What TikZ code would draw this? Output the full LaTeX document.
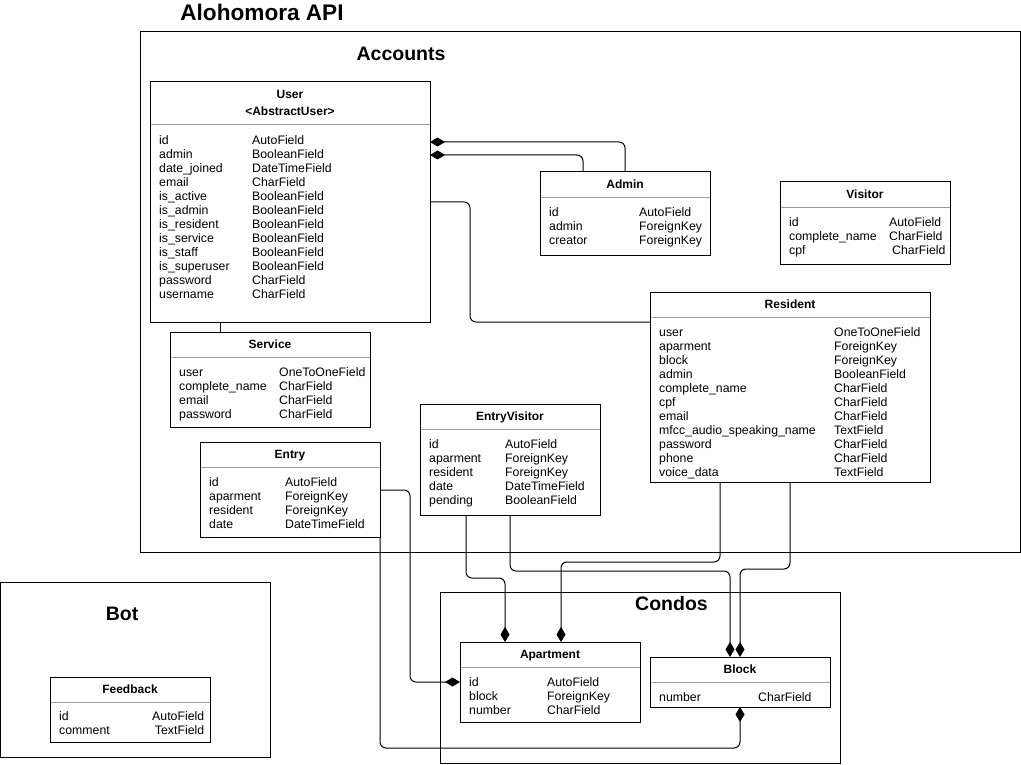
\documentclass[tikz,border=0pt]{standalone}
\usepackage{fontspec}
\setmainfont{Liberation Sans}
\usetikzlibrary{arrows.meta,calc}
\definecolor{sepgray}{RGB}{155,155,155}
\tikzset{
 box/.style={draw, line width=1pt, fill=white, inner sep=0pt, outer sep=0pt, anchor=north west},
 frm/.style={draw, line width=1pt, inner sep=0pt, outer sep=0pt, anchor=north west},
 ttl/.style={font=\bfseries\fontsize{12}{14}\selectfont, anchor=base, inner sep=0pt},
 fld/.style={font=\fontsize{12.3}{14}\selectfont, anchor=base west, inner sep=0pt},
 sepline/.style={draw=sepgray, line width=1pt},
 conn/.style={line width=1pt, rounded corners=6pt},
 comp/.style={conn, -{Diamond[length=15pt,width=9pt]}},
 big/.style={font=\bfseries\fontsize{19.5}{23}\selectfont, anchor=base, inner sep=0pt},
}
% #1 name, #2 x, #3 y, #4 w, #5 h, #6 title, #7 column width, #8 rows
\newcommand\umlclass[8]{%
 \node[box, minimum width=#4pt, minimum height=#5pt] (#1) at (#2,#3) {};
 \node[ttl] (#1-t) at ($(#1.north)+(0,16.3)$) {#6};
 \draw[sepline] ($(#1.north west)+(0.5,25.5)$) -- ($(#1.north east)+(-0.5,25.5)$);
 \node[fld] (#1-f) at ($(#1.north west)+(9,44.3)$) {\begin{tabular}[t]{@{}p{#7pt}@{}l@{}}#8\end{tabular}};
}
\begin{document}
\begin{tikzpicture}[x=1pt, y=-1pt]
\useasboundingbox (0,0) rectangle (1021,765);
% frames
\node[frm, minimum width=880pt, minimum height=520pt] (accounts) at (140,32) {};
\node[frm, minimum width=400pt, minimum height=171pt] (condos) at (440,592) {};
\node[frm, minimum width=269.5pt, minimum height=175pt] (bot) at (0.5,582) {};
\node[big, font=\bfseries\fontsize{22.6}{26}\selectfont] (api-t) at (262,21) {Alohomora API};
\node[big] (accounts-t) at (401,61) {Accounts};
\node[big] (condos-t) at (671.5,610) {Condos};
\node[big] (bot-t) at (122,620) {Bot};

% User
\node[box, minimum width=280pt, minimum height=240pt] (user) at (150,82) {};
\node[ttl] (user-t) at ($(user.north)+(0,16.8)$) {User};
\node[ttl] (user-s) at ($(user.north)+(0,33.8)$) {<AbstractUser>};
\draw[sepline] ($(user.north west)+(0.5,43)$) -- ($(user.north east)+(-0.5,43)$);
\node[fld] (user-f) at ($(user.north west)+(9,62.8)$) {\begin{tabular}[t]{@{}p{93pt}@{}l@{}}
id & AutoField\\ admin & BooleanField\\ date\_joined & DateTimeField\\ email & CharField\\
is\_active & BooleanField\\ is\_admin & BooleanField\\ is\_resident & BooleanField\\
is\_service & BooleanField\\ is\_staff & BooleanField\\ is\_superuser & BooleanField\\
password & CharField\\ username & CharField\end{tabular}};

\umlclass{admin}{540}{172}{170}{83}{Admin}{90}{id & AutoField\\ admin & ForeignKey\\ creator & ForeignKey}
\umlclass{visitor}{780}{182}{170}{82}{Visitor}{100}{id & AutoField\\ complete\_name & CharField\\ cpf & \hspace{3pt}CharField}
\umlclass{resident}{650}{292}{280}{190}{Resident}{175}{user & OneToOneField\\ aparment & ForeignKey\\ block & ForeignKey\\ admin & BooleanField\\ complete\_name & CharField\\ cpf & CharField\\ email & CharField\\ mfcc\_audio\_speaking\_name & TextField\\ password & CharField\\ phone & CharField\\ voice\_data & TextField}
\umlclass{service}{170}{332}{200}{95}{Service}{100}{user & OneToOneField\\ complete\_name & CharField\\ email & CharField\\ password & CharField}
\umlclass{entry}{200}{442}{180}{95}{Entry}{76}{id & AutoField\\ aparment & ForeignKey\\ resident & ForeignKey\\ date & DateTimeField}
\umlclass{ev}{420}{404}{180}{111}{EntryVisitor}{76}{id & AutoField\\ aparment & ForeignKey\\ resident & ForeignKey\\ date & DateTimeField\\ pending & BooleanField}
\umlclass{apartment}{460}{642}{180}{80}{Apartment}{78}{id & AutoField\\ block & ForeignKey\\ number & CharField}
\umlclass{block}{650}{657}{180}{50}{Block}{99}{number & CharField}

% Feedback
\node[box, minimum width=160pt, minimum height=65pt] (feedback) at (50,677) {};
\node[ttl] (feedback-t) at ($(feedback.north)+(0,16)$) {Feedback};
\draw[sepline] ($(feedback.north west)+(0.5,25.5)$) -- ($(feedback.north east)+(-0.5,25.5)$);
\node[fld] (feedback-f) at ($(feedback.north west)+(9,43.5)$) {\begin{tabular*}{145pt}[t]{@{}l@{\extracolsep{\fill}}r@{}}id & AutoField\\ comment & TextField\end{tabular*}};

% connectors
\draw[comp] ($(admin.north west)+(85,0)$) |- ($(user.north east)+(0,60)$);
\draw[comp] ($(admin.north west)+(43,0)$) |- ($(user.north east)+(0,73)$);
\draw[conn] ($(user.north east)+(0,120)$) -- ++(40,0) -- ++(0,120) -- ($(resident.north west)+(0,30)$);
\draw[conn] ($(user.south west)+(70,0)$) -- ($(service.north west)+(50,0)$);
\draw[comp] ($(entry.north east)+(0,48)$) -- ++(30,0) |- ($(apartment.north west)+(0,40)$);
\draw[comp] (entry.south east) -- ++(0,211) -| ($(block.south west)+(90,0)$);
\draw[comp] ($(ev.south west)+(46,0)$) -- ++(0,63) -| ($(apartment.north west)+(45,0)$);
\draw[comp] ($(ev.south west)+(90,0)$) -- ++(0,56) -| ($(block.north west)+(80,0)$);
\draw[comp] ($(resident.south west)+(70,0)$) -- ++(0,80) -| ($(apartment.north west)+(101,0)$);
\draw[comp] ($(resident.south west)+(140,0)$) -- ++(0,87) -| ($(block.north west)+(90,0)$);
\end{tikzpicture}
\end{document}
